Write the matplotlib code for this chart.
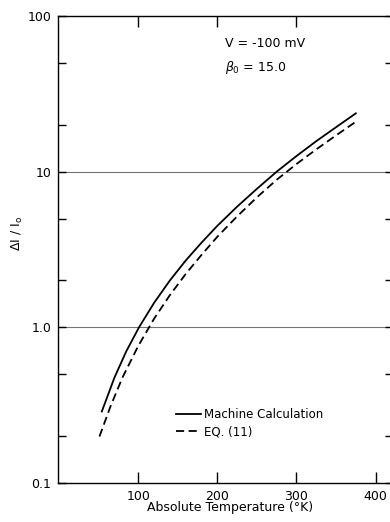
import matplotlib
matplotlib.use('Agg')
import matplotlib.pyplot as plt
from matplotlib.ticker import FixedLocator, FixedFormatter, NullFormatter

# values (temperature in K, dI/I0)
temp_machine = [54, 70, 85, 101, 120, 140, 160, 180, 200, 225, 250, 275, 300, 325, 350, 375]
dI_machine = [0.288, 0.476, 0.703, 1.0, 1.435, 2.0, 2.685, 3.50, 4.49, 5.96,
              7.76, 10.0, 12.6, 15.7, 19.3, 23.7]

temp_eq11 = [51, 65, 80, 100, 120, 140, 160, 180, 200, 225, 250, 275, 300, 325, 350, 376]
dI_eq11 = [0.199, 0.311, 0.475, 0.759, 1.135, 1.61, 2.20, 2.92, 3.82, 5.16,
           6.84, 8.87, 11.2, 13.9, 17.1, 21.1]

x_ticks = [100, 200, 300, 400]
x_ticklabels = ['100', '200', '300', '400']
y_ticks = [0.1, 1, 10, 100]
y_ticklabels = ['0.1', '1.0', '10', '100']
y_minor = [0.2, 0.5, 2, 5, 20, 50]
grid_levels = [1, 10]

W, H = 390, 522
fig = plt.figure(figsize=(W / 100, H / 100), dpi=100)
ax = fig.add_axes([58.3 / W, 39 / H, (393 - 58.3) / W, 467 / H])

for g in grid_levels:
    ax.axhline(g, color='0.45', lw=0.8, zorder=1)

ax.plot(temp_machine, dI_machine, color='black', lw=1.3, label='Machine Calculation', zorder=3)
ax.plot(temp_eq11, dI_eq11, color='black', lw=1.3, linestyle=(0, (4.5, 2.5)),
        label='EQ. (11)', zorder=3)

ax.set_yscale('log')
ax.set_xlim(-1, 422)
ax.set_ylim(0.1, 100)

ax.xaxis.set_major_locator(FixedLocator(x_ticks))
ax.xaxis.set_major_formatter(FixedFormatter(x_ticklabels))
ax.yaxis.set_major_locator(FixedLocator(y_ticks))
ax.yaxis.set_major_formatter(FixedFormatter(y_ticklabels))
ax.yaxis.set_minor_locator(FixedLocator(y_minor))
ax.yaxis.set_minor_formatter(NullFormatter())
ax.xaxis.set_minor_locator(FixedLocator([]))

ax.tick_params(axis='x', which='major', direction='in', length=8, width=1,
               top=True, bottom=True, labelsize=9, pad=5)
ax.tick_params(axis='y', which='both', direction='in', length=5.5, width=1,
               left=True, right=True, labelsize=9, pad=5)
# no top tick at 400 in the original
ax.xaxis.get_major_ticks()[-1].tick2line.set_visible(False)

for s in ax.spines.values():
    s.set_linewidth(1.0)

fig.text(225 / W, 1 - 46.7 / H, 'V = -100 mV', fontsize=9, va='baseline')
fig.text(225 / W, 1 - 70.5 / H, r'$\beta_0$ = 15.0', fontsize=9, va='baseline')

fig.text(17 / W, 1 - 233 / H, r'$\Delta\mathrm{I}\ /\ \mathrm{I}_\mathrm{o}$', fontsize=9,
         rotation=90, ha='center', va='center')
fig.text(230 / W, 1 - 508 / H, 'Absolute Temperature (°K)', fontsize=9,
         ha='center', va='center')

ax.legend(loc='upper left', bbox_to_anchor=(176 / W, 1 - 408 / H),
          bbox_transform=fig.transFigure, frameon=False, fontsize=8.5,
          handlelength=2.1, handletextpad=0.25, labelspacing=0.35,
          borderpad=0, borderaxespad=0)

fig.savefig('out.png', dpi=100)
